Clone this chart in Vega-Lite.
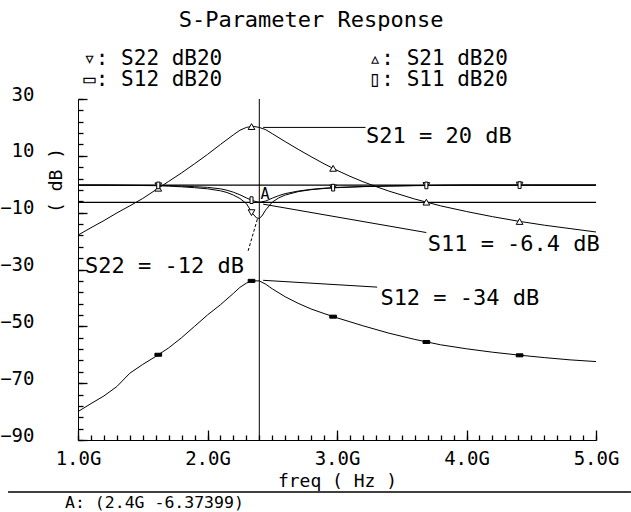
{
  "$schema": "https://vega.github.io/schema/vega-lite/v6.json",
  "width": 518,
  "height": 341,
  "autosize": "none",
  "padding": {"left": 78, "top": 99, "right": 35, "bottom": 72},
  "background": "white",
  "config": {
    "view": {"stroke": null},
    "font": "DejaVu Sans Mono",
    "axis": {"grid": false, "domainColor": "black", "tickColor": "black", "labelColor": "black", "titleColor": "black", "labelFont": "DejaVu Sans Mono", "titleFont": "DejaVu Sans Mono", "titleFontWeight": "normal", "domainWidth": 1, "tickWidth": 1.3},
    "text": {"font": "DejaVu Sans Mono", "color": "black"}
  },
  "datasets": {
    "curves": [
      {"series": "S21", "freq": 1.0, "db": -17.9}, {"series": "S21", "freq": 1.1, "db": -15.3}, {"series": "S21", "freq": 1.2, "db": -12.8}, {"series": "S21", "freq": 1.3, "db": -10.1}, {"series": "S21", "freq": 1.4, "db": -7.6}, {"series": "S21", "freq": 1.5, "db": -5.0}, {"series": "S21", "freq": 1.6, "db": -2.0}, {"series": "S21", "freq": 1.7, "db": 1.0}, {"series": "S21", "freq": 1.8, "db": 4.0}, {"series": "S21", "freq": 1.9, "db": 7.2}, {"series": "S21", "freq": 2.0, "db": 10.5}, {"series": "S21", "freq": 2.1, "db": 14.0}, {"series": "S21", "freq": 2.2, "db": 17.4}, {"series": "S21", "freq": 2.25, "db": 19.0}, {"series": "S21", "freq": 2.3, "db": 20.0}, {"series": "S21", "freq": 2.35, "db": 20.4}, {"series": "S21", "freq": 2.4, "db": 20.0}, {"series": "S21", "freq": 2.45, "db": 19.2}, {"series": "S21", "freq": 2.5, "db": 17.8}, {"series": "S21", "freq": 2.6, "db": 15.0}, {"series": "S21", "freq": 2.7, "db": 12.3}, {"series": "S21", "freq": 2.8, "db": 9.7}, {"series": "S21", "freq": 2.9, "db": 7.2}, {"series": "S21", "freq": 3.0, "db": 4.9}, {"series": "S21", "freq": 3.1, "db": 2.8}, {"series": "S21", "freq": 3.2, "db": 0.9}, {"series": "S21", "freq": 3.3, "db": -0.8}, {"series": "S21", "freq": 3.4, "db": -2.4}, {"series": "S21", "freq": 3.6, "db": -5.2}, {"series": "S21", "freq": 3.8, "db": -7.6}, {"series": "S21", "freq": 4.0, "db": -9.6}, {"series": "S21", "freq": 4.2, "db": -11.4}, {"series": "S21", "freq": 4.4, "db": -13.0}, {"series": "S21", "freq": 4.6, "db": -14.4}, {"series": "S21", "freq": 4.8, "db": -15.6}, {"series": "S21", "freq": 5.0, "db": -16.8},
      {"series": "S12", "freq": 1.0, "db": -80.0}, {"series": "S12", "freq": 1.1, "db": -77.2}, {"series": "S12", "freq": 1.2, "db": -74.5}, {"series": "S12", "freq": 1.3, "db": -71.2}, {"series": "S12", "freq": 1.4, "db": -66.5}, {"series": "S12", "freq": 1.5, "db": -63.4}, {"series": "S12", "freq": 1.6, "db": -60.6}, {"series": "S12", "freq": 1.7, "db": -57.6}, {"series": "S12", "freq": 1.8, "db": -54.0}, {"series": "S12", "freq": 1.9, "db": -50.0}, {"series": "S12", "freq": 2.0, "db": -46.0}, {"series": "S12", "freq": 2.1, "db": -42.4}, {"series": "S12", "freq": 2.2, "db": -38.4}, {"series": "S12", "freq": 2.25, "db": -36.3}, {"series": "S12", "freq": 2.3, "db": -34.8}, {"series": "S12", "freq": 2.35, "db": -34.0}, {"series": "S12", "freq": 2.4, "db": -34.0}, {"series": "S12", "freq": 2.45, "db": -35.2}, {"series": "S12", "freq": 2.5, "db": -36.8}, {"series": "S12", "freq": 2.6, "db": -39.6}, {"series": "S12", "freq": 2.7, "db": -41.9}, {"series": "S12", "freq": 2.8, "db": -43.9}, {"series": "S12", "freq": 2.9, "db": -45.5}, {"series": "S12", "freq": 3.0, "db": -47.0}, {"series": "S12", "freq": 3.2, "db": -49.8}, {"series": "S12", "freq": 3.4, "db": -52.4}, {"series": "S12", "freq": 3.6, "db": -54.6}, {"series": "S12", "freq": 3.8, "db": -56.5}, {"series": "S12", "freq": 4.0, "db": -57.9}, {"series": "S12", "freq": 4.2, "db": -59.1}, {"series": "S12", "freq": 4.4, "db": -60.1}, {"series": "S12", "freq": 4.6, "db": -61.0}, {"series": "S12", "freq": 4.8, "db": -61.8}, {"series": "S12", "freq": 5.0, "db": -62.4},
      {"series": "S11", "freq": 1.0, "db": -0.3}, {"series": "S11", "freq": 1.2, "db": -0.3}, {"series": "S11", "freq": 1.4, "db": -0.35}, {"series": "S11", "freq": 1.6, "db": -0.4}, {"series": "S11", "freq": 1.7, "db": -0.5}, {"series": "S11", "freq": 1.8, "db": -0.65}, {"series": "S11", "freq": 1.9, "db": -0.85}, {"series": "S11", "freq": 2.0, "db": -1.1}, {"series": "S11", "freq": 2.1, "db": -1.6}, {"series": "S11", "freq": 2.15, "db": -2.1}, {"series": "S11", "freq": 2.2, "db": -2.8}, {"series": "S11", "freq": 2.25, "db": -3.7}, {"series": "S11", "freq": 2.3, "db": -4.8}, {"series": "S11", "freq": 2.35, "db": -5.8}, {"series": "S11", "freq": 2.4, "db": -6.37}, {"series": "S11", "freq": 2.45, "db": -5.9}, {"series": "S11", "freq": 2.5, "db": -4.9}, {"series": "S11", "freq": 2.55, "db": -4.0}, {"series": "S11", "freq": 2.6, "db": -3.3}, {"series": "S11", "freq": 2.7, "db": -2.4}, {"series": "S11", "freq": 2.8, "db": -1.8}, {"series": "S11", "freq": 2.9, "db": -1.4}, {"series": "S11", "freq": 3.0, "db": -1.1}, {"series": "S11", "freq": 3.2, "db": -0.8}, {"series": "S11", "freq": 3.4, "db": -0.6}, {"series": "S11", "freq": 3.6, "db": -0.45}, {"series": "S11", "freq": 3.8, "db": -0.35}, {"series": "S11", "freq": 4.0, "db": -0.3}, {"series": "S11", "freq": 4.5, "db": -0.3}, {"series": "S11", "freq": 5.0, "db": -0.3},
      {"series": "S22", "freq": 1.0, "db": -0.3}, {"series": "S22", "freq": 1.2, "db": -0.3}, {"series": "S22", "freq": 1.4, "db": -0.4}, {"series": "S22", "freq": 1.6, "db": -0.5}, {"series": "S22", "freq": 1.7, "db": -0.65}, {"series": "S22", "freq": 1.8, "db": -0.9}, {"series": "S22", "freq": 1.9, "db": -1.2}, {"series": "S22", "freq": 2.0, "db": -1.6}, {"series": "S22", "freq": 2.1, "db": -2.3}, {"series": "S22", "freq": 2.15, "db": -2.9}, {"series": "S22", "freq": 2.2, "db": -3.8}, {"series": "S22", "freq": 2.25, "db": -5.0}, {"series": "S22", "freq": 2.3, "db": -6.8}, {"series": "S22", "freq": 2.35, "db": -10.4}, {"series": "S22", "freq": 2.38, "db": -11.9}, {"series": "S22", "freq": 2.4, "db": -12.0}, {"series": "S22", "freq": 2.42, "db": -11.2}, {"series": "S22", "freq": 2.45, "db": -9.0}, {"series": "S22", "freq": 2.5, "db": -6.3}, {"series": "S22", "freq": 2.55, "db": -4.8}, {"series": "S22", "freq": 2.6, "db": -3.8}, {"series": "S22", "freq": 2.7, "db": -2.6}, {"series": "S22", "freq": 2.8, "db": -1.9}, {"series": "S22", "freq": 2.9, "db": -1.5}, {"series": "S22", "freq": 3.0, "db": -1.2}, {"series": "S22", "freq": 3.2, "db": -0.85}, {"series": "S22", "freq": 3.4, "db": -0.65}, {"series": "S22", "freq": 3.6, "db": -0.5}, {"series": "S22", "freq": 3.8, "db": -0.4}, {"series": "S22", "freq": 4.0, "db": -0.3}, {"series": "S22", "freq": 4.5, "db": -0.3}, {"series": "S22", "freq": 5.0, "db": -0.3}
    ],
    "markers": [
      {"series": "S21", "freq": 1.62, "db": -1.4}, {"series": "S21", "freq": 2.34, "db": 20.3}, {"series": "S21", "freq": 2.97, "db": 5.6}, {"series": "S21", "freq": 3.69, "db": -6.3}, {"series": "S21", "freq": 4.41, "db": -13.1},
      {"series": "S22", "freq": 1.62, "db": -0.55}, {"series": "S22", "freq": 2.34, "db": -10.0}, {"series": "S22", "freq": 2.97, "db": -1.3}, {"series": "S22", "freq": 3.69, "db": -0.45}, {"series": "S22", "freq": 4.41, "db": -0.3},
      {"series": "S11", "freq": 1.62, "db": -0.4}, {"series": "S11", "freq": 2.34, "db": -5.6}, {"series": "S11", "freq": 2.97, "db": -1.2}, {"series": "S11", "freq": 3.69, "db": -0.4}, {"series": "S11", "freq": 4.41, "db": -0.3},
      {"series": "S12", "freq": 1.62, "db": -60.0}, {"series": "S12", "freq": 2.34, "db": -34.0}, {"series": "S12", "freq": 2.97, "db": -46.6}, {"series": "S12", "freq": 3.69, "db": -55.5}, {"series": "S12", "freq": 4.41, "db": -60.2}
    ],
    "hlines": [{"db": -6.37}, {"db": -0.3}],
    "vlines": [{"freq": 2.4}],
    "leaders": [
      {"freq": 2.43, "db": 20.0, "freq2": 3.22, "db2": 20.0},
      {"freq": 2.43, "db": -7.0, "freq2": 3.69, "db2": -17.0},
      {"freq": 2.43, "db": -33.8, "freq2": 3.31, "db2": -36.2}
    ],
    "dashed": [{"freq": 2.385, "db": -12.3, "freq2": 2.31, "db2": -24.0}],
    "notes": [
      {"freq": 3.224, "db": 14.5, "text": "S21 = 20 dB"},
      {"freq": 3.70, "db": -23.5, "text": "S11 = -6.4 dB"},
      {"freq": 3.335, "db": -42.5, "text": "S12 = -34 dB"},
      {"freq": 1.054, "db": -31.3, "text": "S22 = -12 dB"}
    ],
    "legend": [
      {"freq": 1.04, "db": 42.0, "text": "▿: S22 dB20"},
      {"freq": 1.04, "db": 34.6, "text": "▭: S12 dB20"},
      {"freq": 3.245, "db": 42.0, "text": "▵: S21 dB20"},
      {"freq": 3.245, "db": 34.6, "text": "▯: S11 dB20"}
    ],
    "title": [{"freq": 2.8, "db": 55.5, "text": "S-Parameter Response"}],
    "marklabel": [{"freq": 2.445, "db": -5.3, "text": "A"}],
    "status": [{"freq": 0.9, "db": -113.8, "text": "A: (2.4G -6.37399)"}],
    "statusline": [{"freq": 0.46, "db": -108.3, "freq2": 5.27}]
  },
  "layer": [
    {
      "data": {"name": "curves"},
      "mark": {"type": "line", "color": "black", "strokeWidth": 1},
      "encoding": {
        "x": {"field": "freq", "type": "quantitative", "scale": {"domain": [1, 5], "nice": false, "zero": false},
          "axis": {"orient": "bottom", "values": [1, 2, 3, 4, 5], "labelExpr": "format(datum.value, '.1f') + 'G'", "ticks": false, "labelPadding": 9, "labelFontSize": 19, "labelFlush": false, "labelOverlap": false, "title": "freq ( Hz )", "titleFontSize": 18, "titleX": 259, "titleY": 46, "titleBaseline": "alphabetic", "titleAlign": "center"}},
        "y": {"field": "db", "type": "quantitative", "scale": {"domain": [-90, 30], "nice": false, "zero": false},
          "axis": {"orient": "left", "values": [30, 10, -10, -30, -50, -70, -90], "ticks": false, "labelPadding": 44, "labelFontSize": 19, "labelOffset": -5, "labelFlush": false, "labelOverlap": false, "title": "( dB )", "titleFontSize": 18, "titleX": -22, "titleY": 81, "titleAngle": -90, "titleBaseline": "middle", "titleAlign": "center"}},
        "detail": {"field": "series"}
      }
    },
    {
      "data": {"name": "hlines"},
      "mark": {"type": "rule", "color": "black", "strokeWidth": 1.2},
      "encoding": {
        "y": {"field": "db", "type": "quantitative",
          "axis": {"orient": "left", "values": [30, 26, 22, 18, 14, 10, 6, 2, -2, -6, -10, -14, -18, -22, -26, -30, -34, -38, -42, -46, -50, -54, -58, -62, -66, -70, -74, -78, -82, -86, -90], "offset": -5, "ticks": true, "tickSize": 5, "labels": false, "domain": true, "domainOpacity": 0, "title": null}}
      }
    },
    {
      "data": {"name": "vlines"},
      "mark": {"type": "rule", "color": "black", "strokeWidth": 1},
      "encoding": {
        "x": {"field": "freq", "type": "quantitative",
          "axis": {"orient": "bottom", "values": [1.0, 1.1, 1.2, 1.3, 1.4, 1.5, 1.6, 1.7, 1.8, 1.9, 2.0, 2.1, 2.2, 2.3, 2.4, 2.5, 2.6, 2.7, 2.8, 2.9, 3.0, 3.1, 3.2, 3.3, 3.4, 3.5, 3.6, 3.7, 3.8, 3.9, 4.0, 4.1, 4.2, 4.3, 4.4, 4.5, 4.6, 4.7, 4.8, 4.9, 5.0], "offset": -5, "ticks": true, "tickSize": 5, "labels": false, "domain": true, "domainOpacity": 0, "title": null}}
      }
    },
    {
      "data": {"name": "markers"},
      "mark": {"type": "point", "filled": true, "stroke": "black", "strokeWidth": 1, "size": 45, "opacity": 1},
      "encoding": {
        "x": {"field": "freq", "type": "quantitative",
          "axis": {"orient": "bottom", "values": [1, 2, 3, 4, 5], "offset": -10, "ticks": true, "tickSize": 10, "labels": false, "domain": true, "domainOpacity": 0, "title": null}},
        "y": {"field": "db", "type": "quantitative",
          "axis": {"orient": "left", "values": [30, 10, -10, -30, -50, -70, -90], "offset": -9, "ticks": true, "tickSize": 9, "labels": false, "domain": true, "domainOpacity": 0, "title": null}},
        "shape": {"field": "series", "type": "nominal", "legend": null, "scale": {"domain": ["S11", "S12", "S21", "S22"], "range": ["M-0.45,-1H0.45V1H-0.45Z", "M-1,-0.45H1V0.45H-1Z", "triangle-up", "triangle-down"]}},
        "fill": {"field": "series", "type": "nominal", "legend": null, "scale": {"domain": ["S11", "S12", "S21", "S22"], "range": ["white", "black", "white", "white"]}}
      }
    },
    {
      "data": {"name": "leaders"},
      "mark": {"type": "rule", "color": "black", "strokeWidth": 1},
      "encoding": {
        "x": {"field": "freq", "type": "quantitative", "axis": null},
        "y": {"field": "db", "type": "quantitative", "axis": null},
        "x2": {"field": "freq2"},
        "y2": {"field": "db2"}
      }
    },
    {
      "data": {"name": "dashed"},
      "mark": {"type": "rule", "color": "black", "strokeWidth": 1, "strokeDash": [3, 2]},
      "encoding": {
        "x": {"field": "freq", "type": "quantitative", "axis": null},
        "y": {"field": "db", "type": "quantitative", "axis": null},
        "x2": {"field": "freq2"},
        "y2": {"field": "db2"}
      }
    },
    {
      "data": {"name": "statusline"},
      "mark": {"type": "rule", "color": "black", "strokeWidth": 1.5},
      "encoding": {
        "x": {"field": "freq", "type": "quantitative", "axis": null},
        "y": {"field": "db", "type": "quantitative", "axis": null},
        "x2": {"field": "freq2"}
      }
    },
    {
      "data": {"name": "notes"},
      "mark": {"type": "text", "align": "left", "baseline": "alphabetic", "fontSize": 22},
      "encoding": {
        "x": {"field": "freq", "type": "quantitative", "axis": null},
        "y": {"field": "db", "type": "quantitative", "axis": null},
        "text": {"field": "text"}
      }
    },
    {
      "data": {"name": "legend"},
      "mark": {"type": "text", "align": "left", "baseline": "alphabetic", "fontSize": 21},
      "encoding": {
        "x": {"field": "freq", "type": "quantitative", "axis": null},
        "y": {"field": "db", "type": "quantitative", "axis": null},
        "text": {"field": "text"}
      }
    },
    {
      "data": {"name": "title"},
      "mark": {"type": "text", "align": "center", "baseline": "alphabetic", "fontSize": 22},
      "encoding": {
        "x": {"field": "freq", "type": "quantitative", "axis": null},
        "y": {"field": "db", "type": "quantitative", "axis": null},
        "text": {"field": "text"}
      }
    },
    {
      "data": {"name": "marklabel"},
      "mark": {"type": "text", "align": "center", "baseline": "alphabetic", "fontSize": 15},
      "encoding": {
        "x": {"field": "freq", "type": "quantitative", "axis": null},
        "y": {"field": "db", "type": "quantitative", "axis": null},
        "text": {"field": "text"}
      }
    },
    {
      "data": {"name": "status"},
      "mark": {"type": "text", "align": "left", "baseline": "alphabetic", "fontSize": 16.5},
      "encoding": {
        "x": {"field": "freq", "type": "quantitative", "axis": null},
        "y": {"field": "db", "type": "quantitative", "axis": null},
        "text": {"field": "text"}
      }
    }
  ],
  "resolve": {"axis": {"x": "independent", "y": "independent"}}
}
